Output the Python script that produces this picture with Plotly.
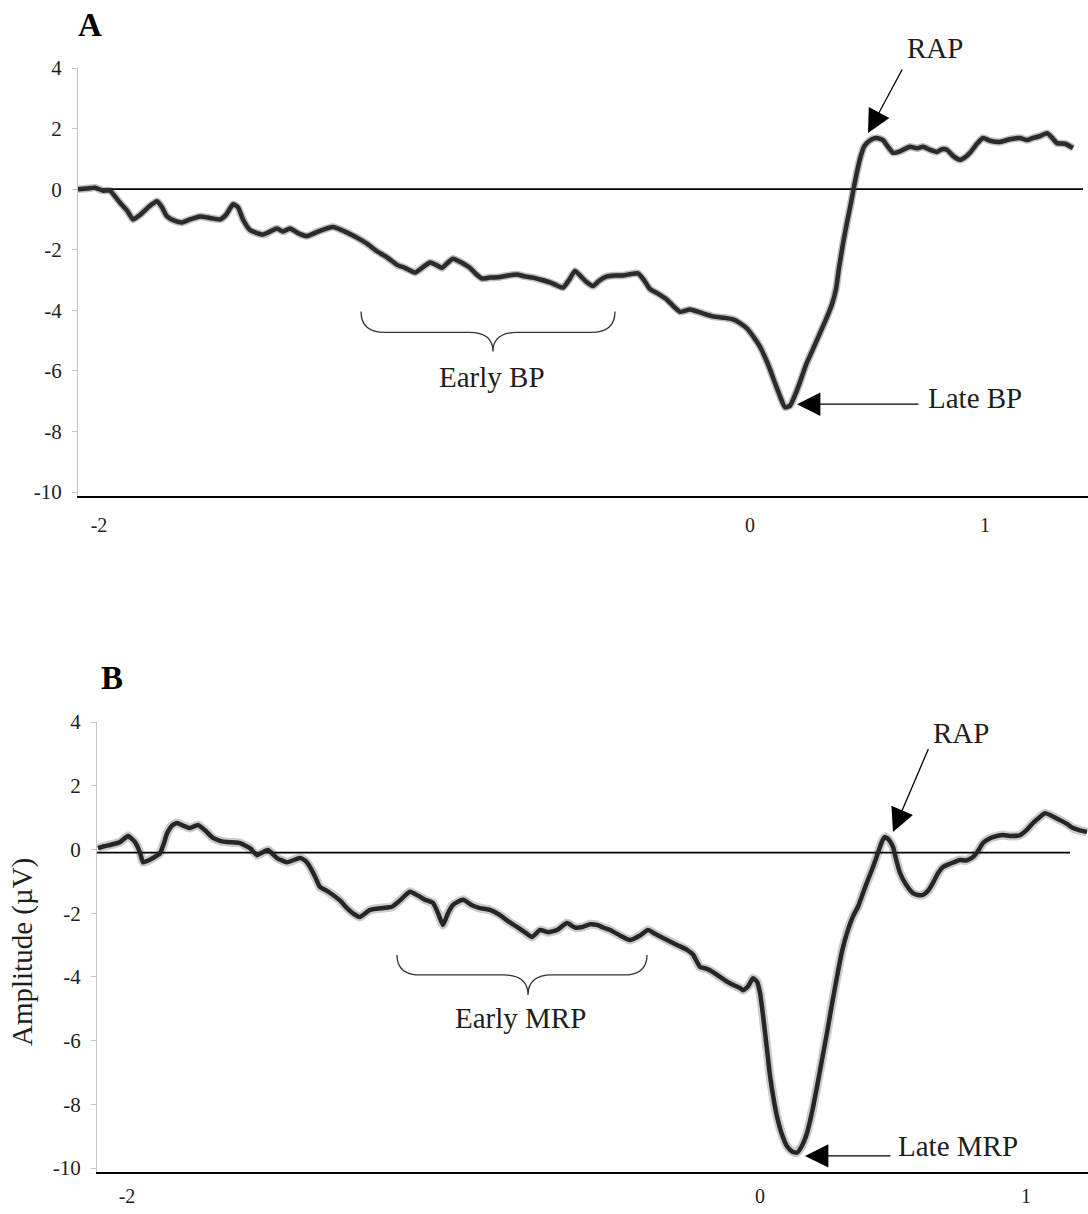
import plotly.graph_objects as go

# ---------------- Panel A: Bereitschaftspotential (sample index vs. µV) ----------------
a_sample = [0, 9, 17, 25, 32, 42, 49, 55, 62, 72, 79, 84, 89, 97, 104, 112, 122, 132, 142, 148,
            155, 160, 165, 172, 179, 185, 192, 199, 205, 212, 220, 229, 240, 255, 267, 279, 289,
            299, 309, 319, 327, 337, 344, 352, 358, 364, 369, 375, 382, 392, 398, 404, 412, 422,
            430, 439, 447, 455, 464, 472, 479, 485, 491, 497, 502, 508, 515, 522, 529, 537, 545,
            553, 560, 566, 572, 580, 589, 595, 602, 612, 622, 635, 647, 655, 662, 669, 675, 682,
            687, 692, 697, 702, 707, 712, 717, 722, 728, 735, 742, 748, 754, 758, 761, 765, 769,
            773, 777, 782, 786, 789, 794, 799, 805, 810, 815, 822, 832, 839, 845, 852, 859, 864,
            869, 875, 882, 887, 892, 899, 905, 912, 922, 932, 942, 949, 955, 962, 969, 974, 979,
            987, 995]
a_uv = [0.0, 0.02, 0.05, -0.05, -0.05, -0.45, -0.7, -1.0, -0.85, -0.55, -0.4, -0.6, -0.9, -1.05,
        -1.1, -1.0, -0.9, -0.95, -1.0, -0.85, -0.5, -0.6, -1.0, -1.35, -1.45, -1.5, -1.4, -1.3,
        -1.4, -1.3, -1.45, -1.55, -1.4, -1.25, -1.4, -1.6, -1.8, -2.05, -2.25, -2.5, -2.6, -2.75,
        -2.6, -2.42, -2.5, -2.6, -2.45, -2.3, -2.4, -2.6, -2.8, -2.95, -2.92, -2.9, -2.85, -2.82,
        -2.88, -2.92, -3.0, -3.08, -3.18, -3.25, -3.0, -2.7, -2.85, -3.05, -3.2, -3.0, -2.88,
        -2.85, -2.85, -2.8, -2.78, -3.0, -3.3, -3.45, -3.65, -3.85, -4.05, -3.97, -4.07, -4.2,
        -4.25, -4.3, -4.42, -4.6, -4.85, -5.2, -5.55, -5.95, -6.4, -6.83, -7.2, -7.15, -6.8,
        -6.37, -5.8, -5.28, -4.75, -4.3, -3.8, -3.3, -2.6, -1.8, -1.1, -0.45, 0.25, 1.0, 1.4,
        1.53, 1.65, 1.69, 1.62, 1.4, 1.2, 1.25, 1.4, 1.35, 1.4, 1.3, 1.23, 1.32, 1.3, 1.1, 0.97,
        1.05, 1.2, 1.5, 1.69, 1.6, 1.56, 1.65, 1.69, 1.62, 1.69, 1.75, 1.85, 1.7, 1.52, 1.5, 1.36]

# ---------------- Panel B: movement-related potential ----------------
b_sample = [1, 7, 13, 23, 31, 38, 43, 46, 51, 56, 63, 67, 70, 75, 80, 86, 93, 101, 108, 116, 123,
            130, 138, 143, 153, 160, 165, 171, 175, 180, 190, 203, 208, 213, 218, 223, 230, 236,
            243, 250, 258, 263, 273, 286, 295, 303, 308, 313, 321, 328, 336, 341, 346, 351, 356,
            366, 375, 383, 393, 403, 411, 420, 428, 435, 443, 451, 460, 470, 478, 486, 493, 500,
            506, 513, 523, 533, 543, 551, 558, 570, 580, 590, 596, 603, 610, 616, 623, 630, 636,
            643, 646, 651, 656, 660, 663, 666, 670, 673, 677, 680, 685, 690, 695, 700, 705, 710,
            715, 720, 725, 730, 735, 740, 745, 750, 756, 761, 766, 771, 776, 781, 785, 788, 792,
            796, 799, 803, 809, 816, 821, 826, 831, 836, 841, 846, 853, 863, 869, 876, 881, 886,
            893, 900, 906, 913, 923, 930, 936, 943, 948, 955, 963, 970, 976, 983, 990]
b_uv = [0.04, 0.1, 0.14, 0.23, 0.42, 0.23, -0.1, -0.4, -0.35, -0.27, -0.12, 0.2, 0.5, 0.75, 0.83,
        0.75, 0.67, 0.77, 0.6, 0.36, 0.27, 0.23, 0.22, 0.2, 0.04, -0.18, -0.1, -0.02, -0.12,
        -0.27, -0.4, -0.27, -0.35, -0.55, -0.85, -1.18, -1.3, -1.43, -1.6, -1.84, -2.05, -2.12,
        -1.9, -1.84, -1.8, -1.6, -1.45, -1.33, -1.45, -1.58, -1.68, -2.0, -2.37, -2.0, -1.74,
        -1.58, -1.75, -1.84, -1.9, -2.06, -2.25, -2.43, -2.6, -2.75, -2.53, -2.6, -2.53, -2.31,
        -2.45, -2.43, -2.35, -2.37, -2.45, -2.53, -2.7, -2.84, -2.7, -2.53, -2.65, -2.84, -3.0,
        -3.15, -3.3, -3.69, -3.75, -3.85, -4.0, -4.15, -4.25, -4.35, -4.42, -4.3, -4.04, -4.15,
        -4.5, -5.2, -6.28, -7.1, -7.9, -8.38, -8.95, -9.32, -9.48, -9.52, -9.3, -8.9, -8.25,
        -7.45, -6.6, -5.76, -4.85, -4.0, -3.2, -2.62, -2.1, -1.8, -1.37, -0.95, -0.55, -0.1,
        0.25, 0.39, 0.3, 0.08, -0.3, -0.74, -1.1, -1.37, -1.43, -1.43, -1.3, -1.05, -0.75, -0.55,
        -0.45, -0.33, -0.35, -0.24, -0.05, 0.2, 0.35, 0.42, 0.45, 0.42, 0.45, 0.62, 0.83, 1.02,
        1.14, 1.05, 0.92, 0.8, 0.67, 0.6, 0.55]

# ---------------- axis ticks ----------------
time_labels = ["-2", "0", "1"]
a_time_ticks = [21, 672, 907]
b_time_ticks = [30, 663, 929]
amp_ticks = [-10, -8, -6, -4, -2, 0, 2, 4]
amp_labels = ["-10", "-8", "-6", "-4", "-2", "0", "2", "4"]

SERIF = "Liberation Serif"
INK = "#1e1e1e"
H, W = 1214, 1088

fig = go.Figure()

# soft halo under each waveform, then the waveform itself
fig.add_trace(go.Scatter(x=a_sample, y=a_uv, mode="lines", xaxis="x", yaxis="y",
                         line=dict(color="rgba(40,40,40,0.3)", width=7.5, shape="spline", smoothing=0.5),
                         hoverinfo="skip", showlegend=False))
fig.add_trace(go.Scatter(x=a_sample, y=a_uv, mode="lines", xaxis="x", yaxis="y",
                         line=dict(color="#2b2b2b", width=4.5, shape="spline", smoothing=0.5),
                         showlegend=False))
fig.add_trace(go.Scatter(x=b_sample, y=b_uv, mode="lines", xaxis="x2", yaxis="y2",
                         line=dict(color="rgba(0,0,0,0.2)", width=9, shape="spline", smoothing=0.5),
                         hoverinfo="skip", showlegend=False))
fig.add_trace(go.Scatter(x=b_sample, y=b_uv, mode="lines", xaxis="x2", yaxis="y2",
                         line=dict(color="#262626", width=4.5, shape="spline", smoothing=0.5),
                         showlegend=False))


def x_axis(domain, rng, ticks, anchor, standoff):
    return dict(domain=domain, range=rng, anchor=anchor, showgrid=False, zeroline=False,
                automargin=False,
                showline=True, linecolor="black", linewidth=2,
                tickmode="array", tickvals=ticks, ticktext=time_labels,
                ticks="outside", ticklen=standoff, tickcolor="rgba(0,0,0,0)",
                tickfont=dict(family=SERIF, size=20, color=INK))


def y_axis(domain, rng, anchor):
    return dict(domain=domain, range=rng, anchor=anchor, showgrid=False, zeroline=False,
                automargin=False,
                showline=True, linecolor="#c4c4c4", linewidth=1.2,
                tickmode="array", tickvals=amp_ticks, ticktext=amp_labels,
                ticks="outside", ticklen=5, tickcolor="#c4c4c4",
                ticklabelstandoff=6,
                tickfont=dict(family=SERIF, size=21, color=INK))


def brace(x0, x1, xm, y_top, y_line, y_tip, r, xref, yref):
    path = (f"M {x0},{y_top} Q {x0},{y_line} {x0 + r},{y_line} "
            f"L {xm - r},{y_line} Q {xm},{y_line} {xm},{y_tip} "
            f"Q {xm},{y_line} {xm + r},{y_line} "
            f"L {x1 - r},{y_line} Q {x1},{y_line} {x1},{y_top}")
    return dict(type="path", path=path, xref=xref, yref=yref,
                line=dict(color="#333333", width=1.3))


shapes = [
    # baselines
    dict(type="line", xref="x", yref="y", x0=0, x1=1005, y0=0, y1=0,
         line=dict(color="black", width=1.6), layer="below"),
    dict(type="line", xref="x2", yref="y2", x0=0, x1=973, y0=-0.1, y1=-0.1,
         line=dict(color="black", width=1.6), layer="below"),
    brace(283, 537, 415, -4.04, -4.73, -5.36, 24, "x", "y"),
    brace(300, 550, 431, -3.31, -3.94, -4.57, 24, "x2", "y2"),
]

text_font = dict(family=SERIF, size=29, color=INK)


def label(text, x, y, xr, yr, font=text_font, **kw):
    return dict(text=text, x=x, y=y, xref=xr, yref=yr, showarrow=False,
                xanchor="center", yanchor="middle", font=font, **kw)


def arrow(x, y, ax, ay, xr, yr):
    return dict(x=x, y=y, ax=ax, ay=ay, xref=xr, yref=yr, axref=xr, ayref=yr,
                text="", showarrow=True, arrowhead=2, arrowsize=3.6, arrowwidth=1.3,
                arrowcolor="black", standoff=0)


a_min = min(a_uv)
b_min = min(b_uv)
title_font = dict(family=SERIF, size=33, color="black")

annotations = [
    label("<b>A</b>", 90 / W, 1 - 25 / H, "paper", "paper", title_font),
    label("<b>B</b>", 112 / W, 1 - 678 / H, "paper", "paper", title_font),
    label("Amplitude (µV)", 22 / W, 1 - 952 / H, "paper", "paper", textangle=-90),
    # panel A labels
    label("RAP", 935 / W, 1 - 48 / H, "paper", "paper"),
    arrow(790, 1.85, 825, 4.0, "x", "y"),
    label("Late BP", 897, a_min + 0.3, "x", "y"),
    arrow(719, a_min + 0.1, 842, a_min + 0.1, "x", "y"),
    label("Early BP", 414, -6.21, "x", "y"),
    # panel B labels
    label("RAP", 864, 3.65, "x2", "y2"),
    arrow(796, 0.55, 832, 3.2, "x2", "y2"),
    label("Late MRP", 861, b_min + 0.2, "x2", "y2"),
    arrow(708, b_min - 0.1, 795, b_min - 0.1, "x2", "y2"),
    label("Early MRP", 423, -5.29, "x2", "y2"),
]

fig.update_layout(
    width=W, height=H,
    margin=dict(l=0, r=0, t=0, b=0, autoexpand=False),
    paper_bgcolor="white", plot_bgcolor="white",
    showlegend=False,
    xaxis=x_axis([78 / W, 1.0], [0, 1010], a_time_ticks, "y", 10),
    yaxis=y_axis([1 - 496 / H, 1 - 68 / H], [-10.13, 4], "x"),
    xaxis2=x_axis([97 / W, 1.0], [0, 991], b_time_ticks, "y2", 5),
    yaxis2=y_axis([1 - 1172 / H, 1 - 722 / H], [-10.125, 4], "x2"),
    shapes=shapes,
    annotations=annotations,
)

fig.write_html("out.html")
